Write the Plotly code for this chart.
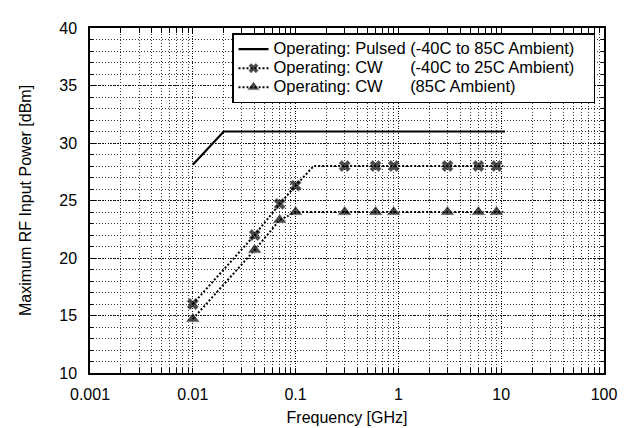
import plotly.graph_objects as go

# ---- data ----
pulsed_name = "Operating: Pulsed (-40C to 85C Ambient)"
pulsed_x = [0.01, 0.02, 10.9]
pulsed_y = [28.1, 31, 31]

cw_name = "Operating: CW" + "\u00a0" * 6 + "(-40C to 25C Ambient)"
cw_x = [0.01, 0.04, 0.07, 0.1, 0.15, 0.3, 0.6, 0.9, 3, 6, 9, 10.5]
cw_y = [16, 22, 24.7, 26.3, 28, 28, 28, 28, 28, 28, 28, 28]
cw_marker_x = [0.01, 0.04, 0.07, 0.1, 0.3, 0.6, 0.9, 3, 6, 9]

hot_name = "Operating: CW" + "\u00a0" * 6 + "(85C Ambient)"
hot_x = [0.01, 0.04, 0.07, 0.1, 0.3, 0.6, 0.9, 3, 6, 9, 10.5]
hot_y = [14.7, 20.7, 23.3, 24, 24, 24, 24, 24, 24, 24, 24]
hot_marker_x = [0.01, 0.04, 0.07, 0.1, 0.3, 0.6, 0.9, 3, 6, 9]

x_major = [0.001, 0.01, 0.1, 1, 10, 100]
x_major_text = ["0.001", "0.01", "0.1", "1", "10", "100"]
x_minor = [m * d for d in [0.001, 0.01, 0.1, 1, 10] for m in range(2, 10)]
y_major = [10, 15, 20, 25, 30, 35, 40]
y_minor = list(range(10, 41))

FONT = "Liberation Sans, Arial, sans-serif"
PAD = "\u00a0" * 3


def leg(name):
    return '<span style="font-size:16.5px">' + name + PAD + "</span>"


fig = go.Figure()
fig.add_trace(go.Scatter(
    x=pulsed_x, y=pulsed_y, mode="lines", name=leg(pulsed_name),
    line=dict(color="black", width=2.2)))
fig.add_trace(go.Scatter(
    x=cw_x, y=cw_y, mode="lines+markers", name=leg(cw_name),
    line=dict(color="black", width=2, dash="2px,2px"),
    marker=dict(symbol="x", color="black", line=dict(color="#333", width=0.5),
                size=[10 if v in cw_marker_x else 0 for v in cw_x])))
fig.add_trace(go.Scatter(
    x=hot_x, y=hot_y, mode="lines+markers", name=leg(hot_name),
    line=dict(color="black", width=2, dash="2px,2px"),
    marker=dict(symbol="triangle-up", color="black",
                size=[13 if v in hot_marker_x else 0 for v in hot_x])))

axis_common = dict(
    showline=True, linecolor="black", linewidth=1.5, mirror="allticks",
    ticks="inside", ticklen=5, tickwidth=1, tickcolor="black",
    showgrid=True, gridcolor="#000", gridwidth=1, griddash="1px,1.5px",
    zeroline=False,
    tickfont=dict(family=FONT, size=16, color="black"),
)

fig.update_xaxes(
    type="log", range=[-3, 2],
    tickmode="array", tickvals=x_major, ticktext=x_major_text,
    ticklabelstandoff=6,
    minor=dict(tickvals=x_minor, ticks="inside", ticklen=5, tickcolor="black",
               showgrid=True, gridcolor="#333", gridwidth=1, griddash="1px,2px"),
    title=dict(text="Frequency [GHz]", font=dict(family=FONT, size=16, color="black"),
               standoff=10),
    **axis_common)
fig.update_yaxes(
    range=[10, 40], tickmode="array", tickvals=y_major,
    ticklabelstandoff=8,
    minor=dict(tickvals=y_minor, ticks="inside", ticklen=3, tickcolor="black",
               showgrid=True, gridcolor="#333", gridwidth=1, griddash="1px,2px"),
    title=dict(text="Maximum RF Input Power [dBm]",
               font=dict(family=FONT, size=16, color="black"), standoff=24),
    **axis_common)

fig.update_layout(
    width=626, height=428,
    margin=dict(l=82, r=30, t=15, b=55),
    paper_bgcolor="white", plot_bgcolor="white",
    font=dict(family=FONT, size=16, color="black"),
    showlegend=True,
    legend=dict(x=0.9825, y=0.985, xanchor="right", yanchor="top",
                bgcolor="white", bordercolor="black", borderwidth=1.5,
                font=dict(family=FONT, size=12, color="black"),
                itemwidth=30, tracegroupgap=0),
)

fig.write_html("out.html")
